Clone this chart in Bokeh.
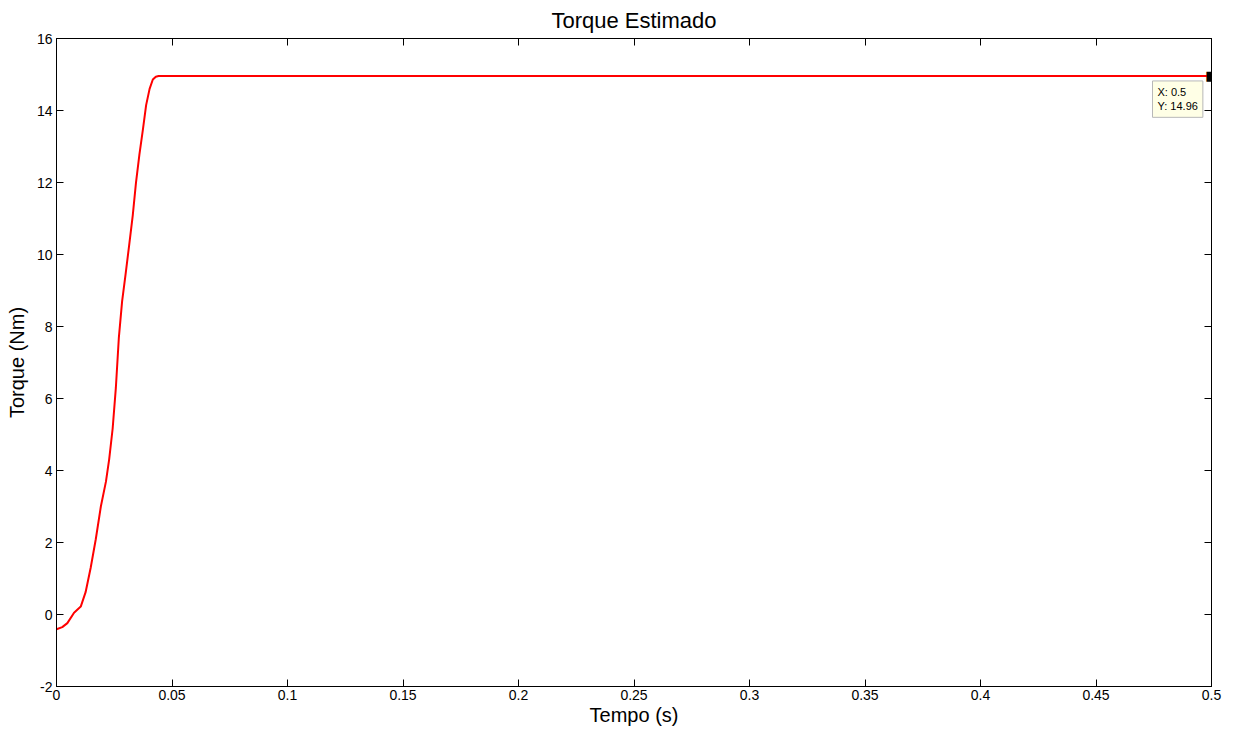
from bokeh.plotting import figure
from bokeh.models import LinearAxis, Range1d, FixedTicker, Label, ColumnDataSource
from bokeh.embed import file_html
from bokeh.resources import INLINE

# Data
tempo = [0.0, 0.0025, 0.0047, 0.0076, 0.0105, 0.0126, 0.0148, 0.0170, 0.0192, 0.0214,
         0.0228, 0.0243, 0.0257, 0.0270, 0.0284, 0.0299, 0.0315, 0.0330, 0.0344, 0.0359,
         0.0374, 0.0388, 0.0403, 0.0417, 0.0430, 0.0442, 0.1, 0.2, 0.3, 0.4, 0.5]
torque = [-0.41, -0.35, -0.24, 0.05, 0.22, 0.62, 1.30, 2.09, 3.00, 3.69,
          4.31, 5.16, 6.30, 7.70, 8.70, 9.45, 10.28, 11.08, 11.99, 12.78,
          13.47, 14.15, 14.60, 14.86, 14.94, 14.96, 14.96, 14.96, 14.96, 14.96, 14.96]
tip_x = [0.5]
tip_y = [14.96]

x_ticks = [0, 0.05, 0.1, 0.15, 0.2, 0.25, 0.3, 0.35, 0.4, 0.45, 0.5]
x_labels = ["0", "0.05", "0.1", "0.15", "0.2", "0.25", "0.3", "0.35", "0.4", "0.45", "0.5"]
y_ticks = [-2, 0, 2, 4, 6, 8, 10, 12, 14, 16]
y_labels = [str(v) for v in y_ticks]

FONT = "Liberation Sans"

p = figure(width=1236, height=736, output_backend="svg", toolbar_location=None,
           x_range=Range1d(0, 0.5), y_range=Range1d(-2, 16),
           min_border_left=56, min_border_right=25, min_border_top=38, min_border_bottom=50,
           title="Torque Estimado")
p.title.align = "center"
p.title.text_font = FONT
p.title.text_font_size = "22px"
p.title.text_font_style = "normal"
p.title.text_color = "black"
p.title.standoff = 11

p.grid.visible = False
p.outline_line_color = "black"
p.outline_line_width = 1
p.background_fill_color = "white"
p.border_fill_color = "white"

src = ColumnDataSource(dict(x=tempo, y=torque))
p.line("x", "y", source=src, line_color="#ff0000", line_width=2)

def style(ax, labels=True):
    ax.axis_line_color = "black"
    ax.major_tick_in = 7
    ax.major_tick_out = 0
    ax.minor_tick_line_color = None
    ax.major_tick_line_color = "black"
    ax.major_label_text_font = FONT
    ax.major_label_text_font_size = "14px"
    ax.major_label_text_color = "black"
    ax.axis_label_text_font = FONT
    ax.axis_label_text_font_size = "20px"
    ax.axis_label_text_font_style = "normal"
    ax.axis_label_text_color = "black"
    if not labels:
        ax.major_label_text_font_size = "0px"
        ax.major_label_text_alpha = 0

xa = p.xaxis[0]
xa.ticker = FixedTicker(ticks=x_ticks)
xa.major_label_overrides = {t: l for t, l in zip(x_ticks, x_labels)}
xa.axis_label = "Tempo (s)"
xa.major_label_standoff = 3
xa.axis_label_standoff = 1
style(xa)

ya = p.yaxis[0]
ya.ticker = FixedTicker(ticks=y_ticks)
ya.major_label_overrides = {t: l for t, l in zip(y_ticks, y_labels)}
ya.axis_label = "Torque (Nm)"
ya.major_label_standoff = 4
ya.axis_label_standoff = 6
style(ya)

top = LinearAxis(ticker=FixedTicker(ticks=x_ticks))
style(top, labels=False)
top.major_label_overrides = {t: "" for t in x_ticks}
p.add_layout(top, "above")
right = LinearAxis(ticker=FixedTicker(ticks=y_ticks))
style(right, labels=False)
right.major_label_overrides = {t: "" for t in y_ticks}
p.add_layout(right, "right")

# data tip text
tip = Label(x=tip_x[0], y=tip_y[0], x_offset=-59, y_offset=-5,
            text="X: %g\nY: %.2f" % (tip_x[0], tip_y[0]),
            text_font=FONT, text_font_size="11px", text_color="black",
            text_baseline="top", text_align="left",
            background_fill_color="#ffffe6", border_line_color="#b8b8b8",
            padding=5)
p.add_layout(tip)
# data tip marker (unclipped square glyph drawn as text)
marker = Label(x=tip_x[0], y=tip_y[0], text="\u25A0", text_font="DejaVu Sans",
               text_font_size="13px", text_color="black",
               text_align="center", text_baseline="middle")
p.add_layout(marker)

open("out.html", "w").write(file_html(p, INLINE))
